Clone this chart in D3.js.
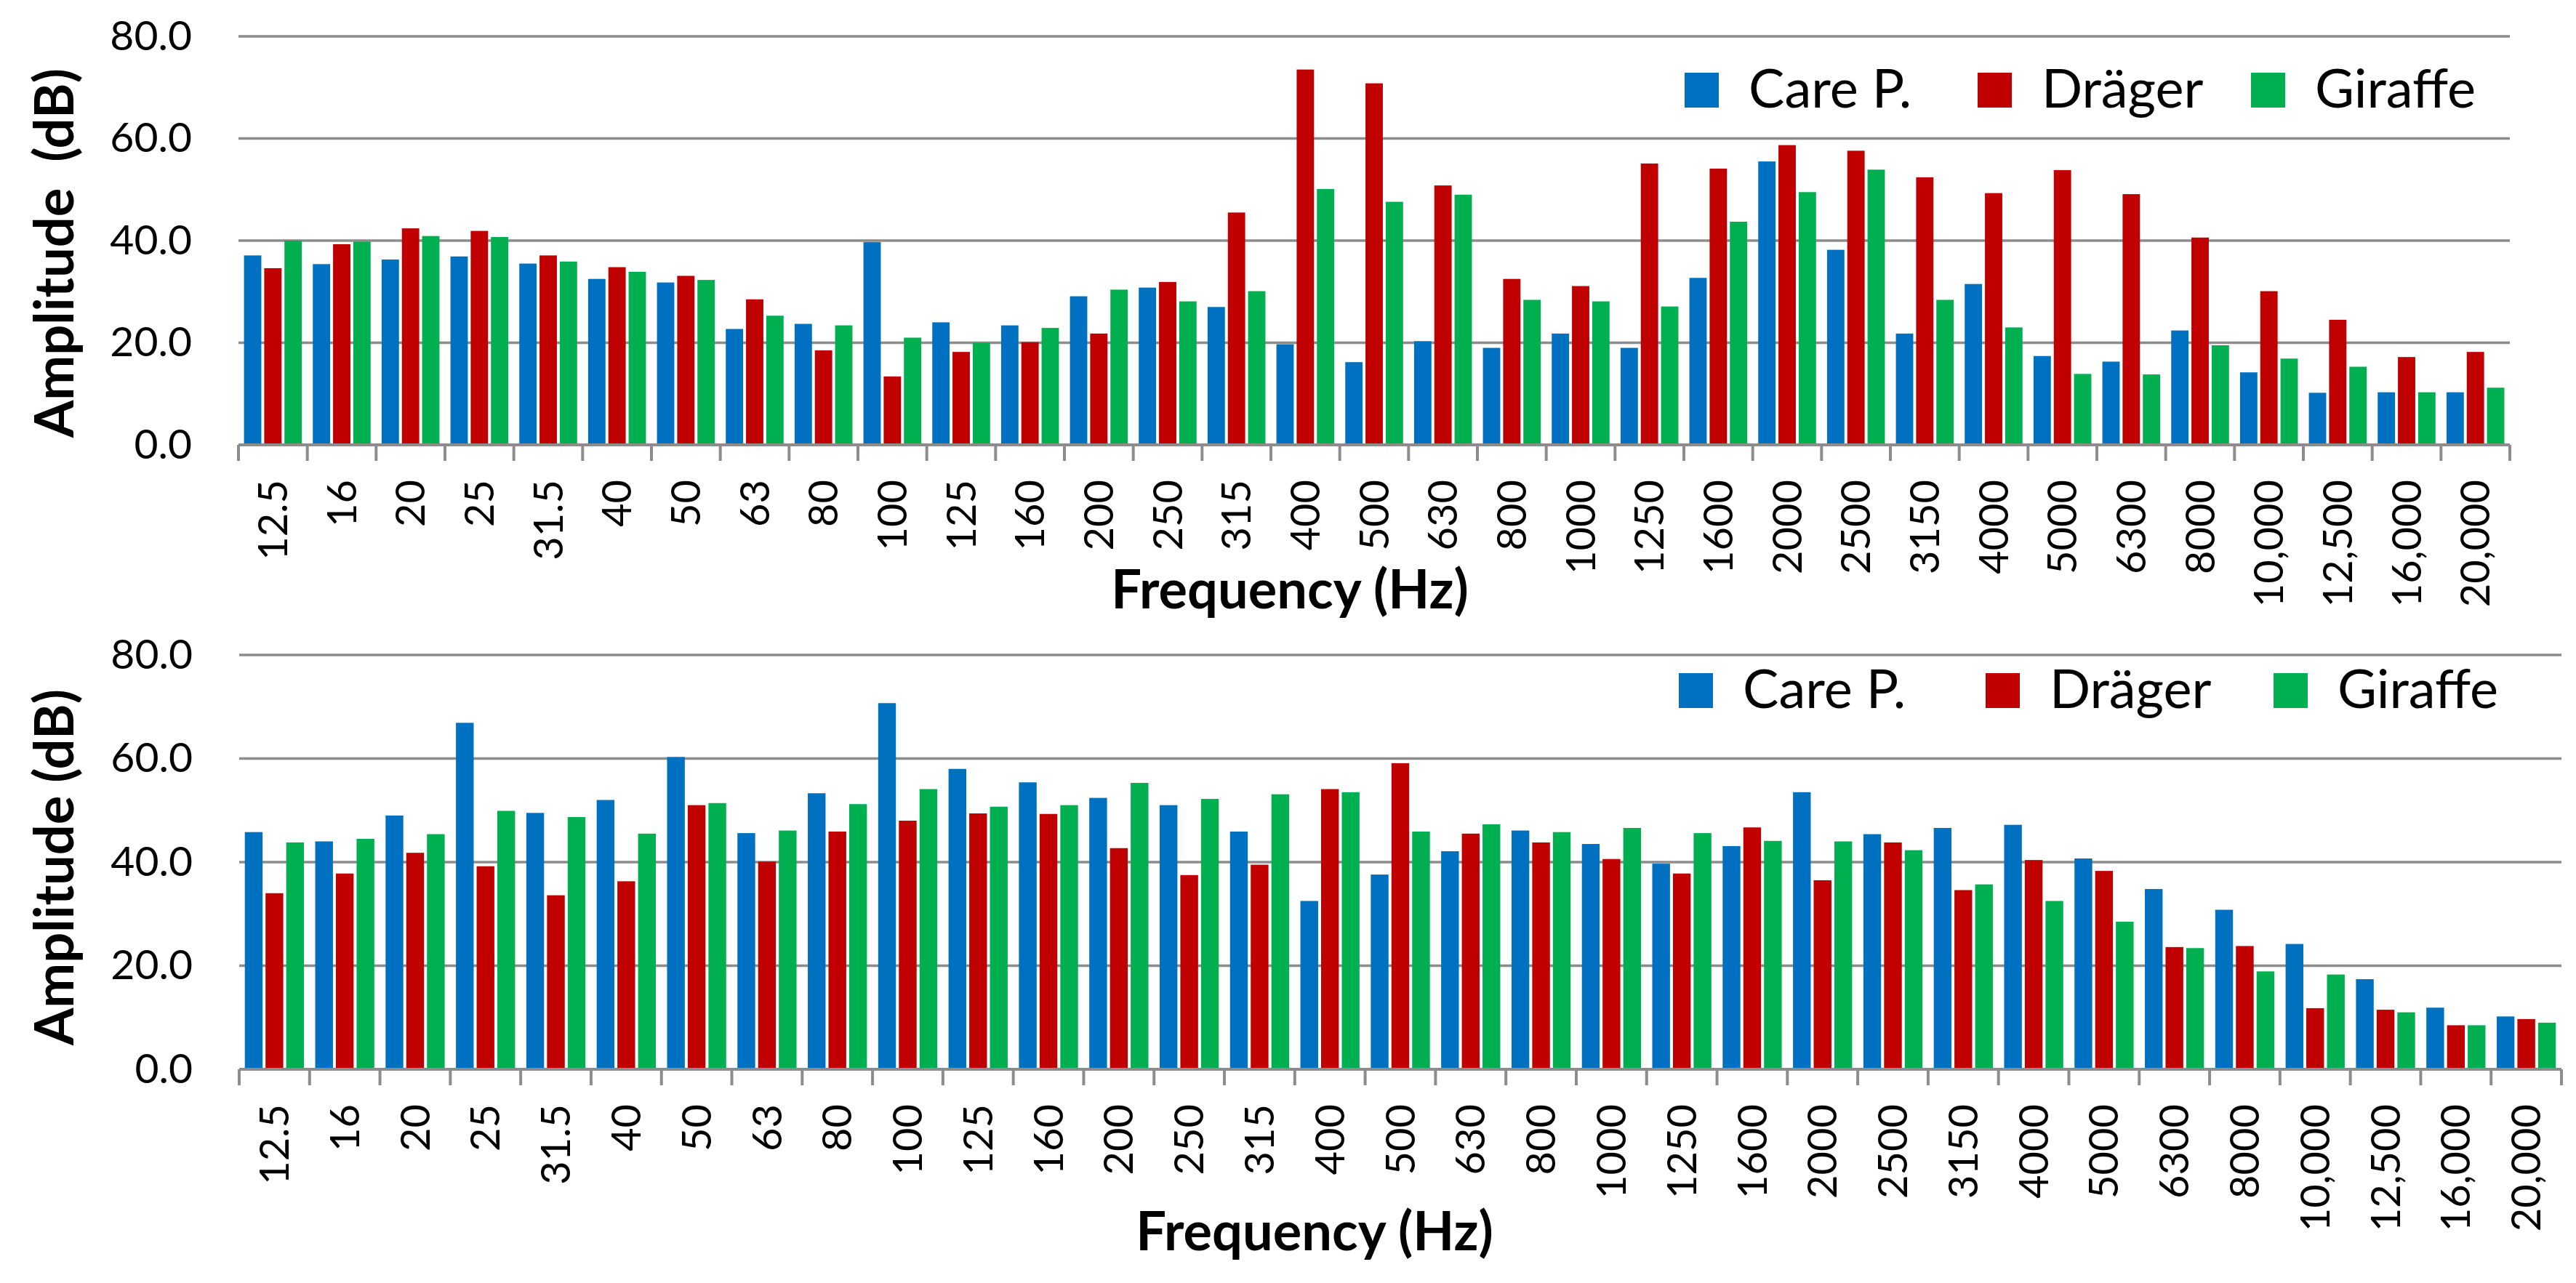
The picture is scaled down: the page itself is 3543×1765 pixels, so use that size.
<!DOCTYPE html>
<html>
<head>
<meta charset="utf-8">
<script src="https://cdn.jsdelivr.net/npm/d3@7"></script>
<style>
  body { margin: 0; background: #fff; }
  svg { display: block; }
</style>
</head>
<body>
<div id="chart"></div>
<script>
// frequency bands (Hz)
const categories = ["12.5","16","20","25","31.5","40","50","63","80","100","125","160","200","250","315","400","500","630","800","1000","1250","1600","2000","2500","3150","4000","5000","6300","8000","10,000","12,500","16,000","20,000"];
const seriesNames = ["Care P.", "Dräger", "Giraffe"];
const seriesColors = ["#0070C0", "#C00000", "#00B050"];
const yTicks = [0, 20, 40, 60, 80];

// upper chart
const topCare    = [37.1,35.4,36.3,36.9,35.5,32.5,31.8,22.7,23.7,39.7,24.0,23.4,29.1,30.8,27.0,19.7,16.2,20.3,19.0,21.8,19.0,32.7,55.5,38.2,21.8,31.5,17.4,16.3,22.4,14.2,10.2,10.3,10.3];
const topDraeger = [34.6,39.3,42.4,41.9,37.1,34.8,33.1,28.5,18.5,13.4,18.2,20.1,21.8,31.9,45.5,73.5,70.8,50.8,32.5,31.1,55.1,54.1,58.7,57.6,52.4,49.3,53.8,49.1,40.6,30.1,24.5,17.2,18.2];
const topGiraffe = [40.0,39.8,40.9,40.7,35.9,33.9,32.3,25.3,23.4,21.0,20.0,22.9,30.4,28.1,30.1,50.1,47.6,49.0,28.4,28.1,27.1,43.7,49.5,53.9,28.4,23.0,13.9,13.8,19.5,16.9,15.3,10.3,11.2];

// lower chart
const botCare    = [45.8,44.0,49.0,66.9,49.5,52.0,60.3,45.6,53.3,70.7,58.0,55.4,52.4,51.0,45.9,32.5,37.6,42.1,46.1,43.5,39.7,43.1,53.5,45.4,46.6,47.2,40.7,34.8,30.8,24.2,17.4,11.9,10.2];
const botDraeger = [34.0,37.8,41.8,39.2,33.6,36.3,51.0,40.1,45.9,48.0,49.4,49.3,42.7,37.5,39.5,54.1,59.1,45.5,43.8,40.6,37.8,46.7,36.5,43.8,34.6,40.4,38.3,23.6,23.8,11.8,11.5,8.5,9.7];
const botGiraffe = [43.8,44.5,45.4,49.9,48.7,45.5,51.4,46.1,51.2,54.1,50.7,51.0,55.3,52.2,53.1,53.5,45.9,47.3,45.8,46.6,45.6,44.1,44.0,42.3,35.7,32.5,28.5,23.4,18.9,18.3,11.0,8.5,9.0];

const W = 3543, H = 1765;
const FONT = "Lato, 'Open Sans', sans-serif";
const GRID = "#8c8c8c";

const panels = [
  { left: 328, right: 3452, top: 50, bottom: 612,
    values: [topCare, topDraeger, topGiraffe],
    yTitle: "Amplitude  (dB)", yTitleY: 348,
    xTitleX: 1774, xTitleY: 837,
    legendY: 100, legendX: [2317, 2720, 3096] },
  { left: 329, right: 3523, top: 901, bottom: 1471,
    values: [botCare, botDraeger, botGiraffe],
    yTitle: "Amplitude (dB)", yTitleY: 1193,
    xTitleX: 1808, xTitleY: 1720,
    legendY: 926, legendX: [2309, 2731, 3127] }
];

const svg = d3.select("#chart").append("svg")
    .attr("width", W)
    .attr("height", H)
    .style("background", "#fff");

panels.forEach(p => {
    const g = svg.append("g");

    var x0 = d3.scaleBand()
        .domain(categories)
        .range([p.left, p.right])
        .paddingInner(0.16)
        .paddingOuter(0.08);
    var x1 = d3.scaleBand()
        .domain(seriesNames)
        .range([0, x0.bandwidth()])
        .paddingInner(0.143);
    var y = d3.scaleLinear()
        .domain([0, 80])
        .range([p.bottom, p.top]);

    // gridlines
    g.append("g").selectAll("line")
        .data(yTicks.filter(d => d > 0))
        .enter().append("line")
        .attr("x1", p.left).attr("x2", p.right)
        .attr("y1", d => y(d)).attr("y2", d => y(d))
        .attr("stroke", GRID)
        .attr("stroke-width", 3.5);

    // bars
    const rows = categories.map((c, i) => ({
        cat: c,
        vals: seriesNames.map((s, k) => ({ name: s, value: p.values[k][i], color: seriesColors[k] }))
    }));
    g.append("g").selectAll("g")
        .data(rows)
        .enter().append("g")
        .attr("transform", d => "translate(" + x0(d.cat) + ",0)")
        .selectAll("rect")
        .data(d => d.vals)
        .enter().append("rect")
        .attr("x", d => x1(d.name))
        .attr("y", d => y(d.value))
        .attr("width", x1.bandwidth())
        .attr("height", d => y(0) - y(d.value))
        .attr("fill", d => d.color);

    // x axis line + boundary ticks
    g.append("line")
        .attr("x1", p.left).attr("x2", p.right)
        .attr("y1", y(0)).attr("y2", y(0))
        .attr("stroke", GRID)
        .attr("stroke-width", 4);
    const step = x0.step();
    const bounds = d3.range(categories.length + 1).map(i => p.left + i * step);
    g.append("g").selectAll("line")
        .data(bounds)
        .enter().append("line")
        .attr("x1", d => d).attr("x2", d => d)
        .attr("y1", y(0)).attr("y2", y(0) + 22)
        .attr("stroke", GRID)
        .attr("stroke-width", 4);

    // x labels, rotated
    const xAxis = g.append("g")
        .attr("transform", "translate(0," + y(0) + ")")
        .call(d3.axisBottom(x0).tickSize(0));
    xAxis.select(".domain").remove();
    xAxis.attr("font-family", FONT).attr("font-size", 56);
    xAxis.selectAll("text")
        .attr("x", 0).attr("y", 0)
        .attr("dy", "0.35em")
        .attr("text-anchor", "end")
        .attr("fill", "#000")
        .attr("transform", "translate(0,48) rotate(-90)");

    // y labels
    const yAxis = g.append("g")
        .attr("transform", "translate(" + p.left + ",0)")
        .call(d3.axisLeft(y).tickValues(yTicks).tickFormat(d3.format(".1f")).tickSize(0).tickPadding(64));
    yAxis.select(".domain").remove();
    yAxis.attr("font-family", FONT).attr("font-size", 57);
    yAxis.selectAll("text").attr("fill", "#000");

    // axis titles
    g.append("text")
        .attr("transform", "translate(101," + p.yTitleY + ") rotate(-90)")
        .attr("text-anchor", "middle")
        .style("white-space", "pre")
        .attr("font-family", FONT)
        .attr("font-weight", "bold")
        .attr("font-size", 74)
        .text(p.yTitle);
    g.append("text")
        .attr("x", p.xTitleX).attr("y", p.xTitleY)
        .attr("text-anchor", "middle")
        .attr("font-family", FONT)
        .attr("font-weight", "bold")
        .attr("font-size", 74)
        .text("Frequency (Hz)");

    // legend
    const lg = g.append("g").selectAll("g")
        .data(seriesNames)
        .enter().append("g")
        .attr("transform", (d, i) => "translate(" + p.legendX[i] + "," + p.legendY + ")");
    lg.append("rect")
        .attr("width", 47).attr("height", 48)
        .attr("fill", (d, i) => seriesColors[i]);
    lg.append("text")
        .attr("x", 88).attr("y", 48)
        .attr("font-family", FONT)
        .attr("font-size", 74)
        .text(d => d);
});
</script>
</body>
</html>
